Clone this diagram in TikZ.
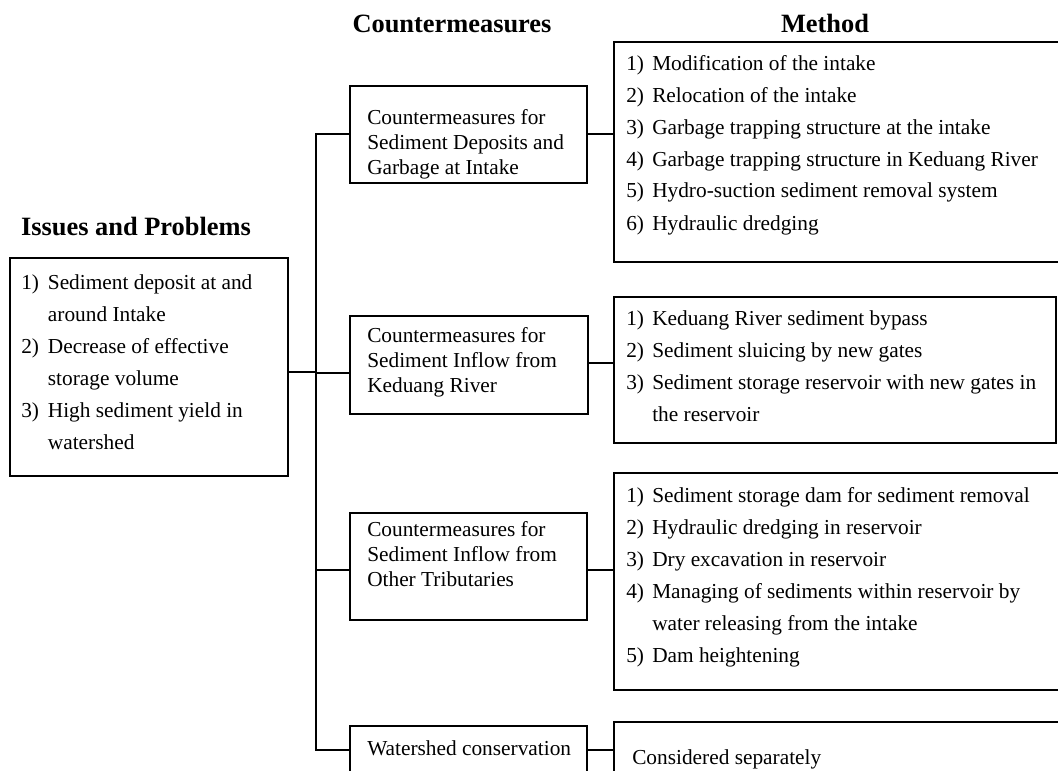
\documentclass[tikz,border=0pt]{standalone}
\usepackage{fontspec}
\setmainfont{Liberation Serif}
\usepackage{array}
\usetikzlibrary{fit}
\begin{document}
\begin{tikzpicture}[x=0.75pt,y=-0.75pt,
  box/.style={draw, line width=1.1pt, inner sep=0pt, outer sep=0pt},
  conn/.style={line width=1.1pt},
  txt/.style={anchor=base west, inner sep=0pt, font=\fontsize{16}{24}\selectfont},
  ctxt/.style={anchor=base west, inner sep=0pt, font=\fontsize{16}{19}\selectfont},
  head/.style={anchor=base, inner sep=0pt, font=\fontsize{19.8}{24}\selectfont\bfseries}]
\useasboundingbox (0,0) rectangle (1058,771);
\clip (0,0) rectangle (1058,771);

% headings
\node[head] (h1) at (452,32) {Countermeasures};
\node[head] (h2) at (825,32) {Method};
\node[head] (h3) at (136,235) {Issues and Problems};

% boxes
\node[box, fit={(10,258) (288,476)}] (P) {};
\node[box, fit={(350,86) (587,183)}] (C1) {};
\node[box, fit={(350,316) (588,414)}] (C2) {};
\node[box, fit={(350,513) (587,620)}] (C3) {};
\node[box, fit={(350,726) (587,800)}] (C4) {};
\node[box, fit={(614,42) (1070,262)}] (M1) {};
\node[box, fit={(614,297) (1056,443)}] (M2) {};
\node[box, fit={(614,473) (1070,690)}] (M3) {};
\node[box, fit={(614,722) (1070,800)}] (M4) {};

% texts
\node[txt] (Pt) at (21,289) {\begin{tabular}[t]{@{}p{20pt}@{}l@{}}
1) & Sediment deposit at and\\
   & around Intake\\
2) & Decrease of effective\\
   & storage volume\\
3) & High sediment yield in\\
   & watershed
\end{tabular}};

\node[ctxt] (C1t) at (367,124) {\begin{tabular}[t]{@{}l@{}}
Countermeasures for\\ Sediment Deposits and\\ Garbage at Intake\end{tabular}};
\node[ctxt] (C2t) at (367,342) {\begin{tabular}[t]{@{}l@{}}
Countermeasures for\\ Sediment Inflow from\\ Keduang River\end{tabular}};
\node[ctxt] (C3t) at (367,536) {\begin{tabular}[t]{@{}l@{}}
Countermeasures for\\ Sediment Inflow from\\ Other Tributaries\end{tabular}};
\node[ctxt] (C4t) at (367,755) {Watershed conservation};

\node[txt] (M1t) at (626,70) {\begin{tabular}[t]{@{}p{19.5pt}@{}l@{}}
1) & Modification of the intake\\
2) & Relocation of the intake\\
3) & Garbage trapping structure at the intake\\
4) & Garbage trapping structure in Keduang River\\
5) & Hydro-suction sediment removal system\\
6) & Hydraulic dredging
\end{tabular}};
\node[txt] (M2t) at (626,325) {\begin{tabular}[t]{@{}p{19.5pt}@{}l@{}}
1) & Keduang River sediment bypass\\
2) & Sediment sluicing by new gates\\
3) & Sediment storage reservoir with new gates in\\
   & the reservoir
\end{tabular}};
\node[txt] (M3t) at (626,502) {\begin{tabular}[t]{@{}p{19.5pt}@{}l@{}}
1) & Sediment storage dam for sediment removal\\
2) & Hydraulic dredging in reservoir\\
3) & Dry excavation in reservoir\\
4) & Managing of sediments within reservoir by\\
   & water releasing from the intake\\
5) & Dam heightening
\end{tabular}};
\node[txt] (M4t) at (632,764) {Considered separately};

% connectors
\coordinate (s1) at (316,134);
\coordinate (s0) at (316,372);
\coordinate (s2) at (316,373);
\coordinate (s3) at (316,570);
\coordinate (s4) at (316,750);
\draw[conn] (s1 -| C1.west) -- (s1) -- (s4) -- (s4 -| C4.west);
\draw[conn] (P.east |- s0) -- (s0);
\draw[conn] (s2) -- (s2 -| C2.west);
\draw[conn] (s3) -- (s3 -| C3.west);
\coordinate (r1) at (600,134);
\coordinate (r2) at (600,363);
\coordinate (r3) at (600,570);
\coordinate (r4) at (600,750);
\draw[conn] (C1.east |- r1) -- (M1.west |- r1);
\draw[conn] (C2.east |- r2) -- (M2.west |- r2);
\draw[conn] (C3.east |- r3) -- (M3.west |- r3);
\draw[conn] (C4.east |- r4) -- (M4.west |- r4);
\end{tikzpicture}
\end{document}
